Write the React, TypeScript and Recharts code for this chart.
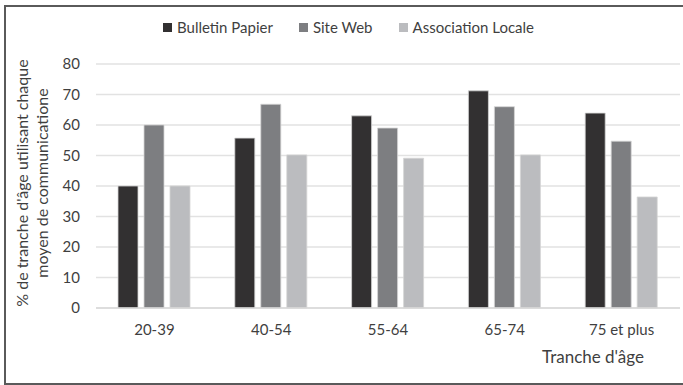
import React from "react";
import { BarChart, Bar, XAxis, YAxis, CartesianGrid, Label } from "recharts";

const ageGroups = ["20-39", "40-54", "55-64", "65-74", "75 et plus"];
const bulletinPapier = [40, 55.7, 63, 71.2, 63.9];
const siteWeb = [60, 66.8, 59, 66, 54.7];
const associationLocale = [40, 50.2, 49.1, 50.2, 36.4];
const yTicks = [0, 10, 20, 30, 40, 50, 60, 70, 80];

const series = [
  { key: "bulletin", label: "Bulletin Papier", color: "#323031", values: bulletinPapier },
  { key: "site", label: "Site Web", color: "#7d7e81", values: siteWeb },
  { key: "asso", label: "Association Locale", color: "#bbbcbf", values: associationLocale },
];

const data = ageGroups.map((age, i) => {
  const row: Record<string, string | number> = { age };
  series.forEach((s) => {
    row[s.key] = s.values[i];
  });
  return row;
});

const FONT = "Lato, 'Open Sans', sans-serif";
const TEXT = "#3f3f3f";

// legend sits above the plot without eating into its height
function LegendRow() {
  return (
    <div
      style={{
        position: "absolute",
        left: 163,
        top: 18,
        display: "flex",
        gap: 26,
        fontFamily: FONT,
        fontSize: 15,
        color: TEXT,
      }}
    >
      {series.map((s) => (
        <div key={s.key} style={{ display: "flex", alignItems: "center", gap: 5 }}>
          <div style={{ width: 9, height: 9, background: s.color }} />
          <span>{s.label}</span>
        </div>
      ))}
    </div>
  );
}

function YTitle({ viewBox }: any) {
  const cy = viewBox.y + viewBox.height / 2 - 3;
  return (
    <text fontFamily={FONT} fontSize={16} fill={TEXT} textAnchor="middle" transform={`rotate(-90, 0, ${cy})`}>
      <tspan x={0} y={cy + 28}>% de tranche d'âge utilisant chaque</tspan>
      <tspan x={0} y={cy + 48}>moyen de communicatione</tspan>
    </text>
  );
}

function XTitle({ viewBox }: any) {
  return (
    <text
      x={viewBox.x + viewBox.width - 87}
      y={viewBox.y + 55}
      textAnchor="middle"
      fontFamily={FONT}
      fontSize={17}
      fill={TEXT}
    >
      Tranche d'âge
    </text>
  );
}

export default function App() {
  return (
    <div style={{ position: "absolute", left: 0, top: 0, width: 683, height: 385, background: "#fff", overflow: "hidden" }}>
      <div
        style={{
          position: "absolute",
          left: 4,
          top: 5,
          width: 690,
          height: 376,
          border: "2px solid #5a5a5a",
        }}
      />
      <LegendRow />
      <BarChart
        width={683}
        height={385}
        data={data}
        margin={{ top: 64, right: 3, left: 0, bottom: 47 }}
        barSize={20}
        barGap={6}
        style={{ position: "absolute", left: 0, top: 0 }}
      >
        <CartesianGrid vertical={false} stroke="#e2e2e2" strokeWidth={1.5} />
        <XAxis
          dataKey="age"
          axisLine={{ stroke: "#d9d9d9", strokeWidth: 1.5 }}
          tickLine={false}
          tick={{ fontFamily: FONT, fontSize: 15, fill: TEXT }}
          tickMargin={10}
        >
          <Label content={<XTitle />} />
        </XAxis>
        <YAxis
          width={96}
          domain={[0, 80]}
          ticks={yTicks}
          axisLine={false}
          tickLine={false}
          tick={{ fontFamily: FONT, fontSize: 15, fill: TEXT }}
          tickMargin={10}
        >
          <Label content={<YTitle />} />
        </YAxis>
        {series.map((s) => (
          <Bar
            key={s.key}
            dataKey={s.key}
            name={s.label}
            fill={s.color}
            stroke="#d4d4d4"
            strokeWidth={0.8}
            isAnimationActive={false}
          />
        ))}
      </BarChart>
    </div>
  );
}
